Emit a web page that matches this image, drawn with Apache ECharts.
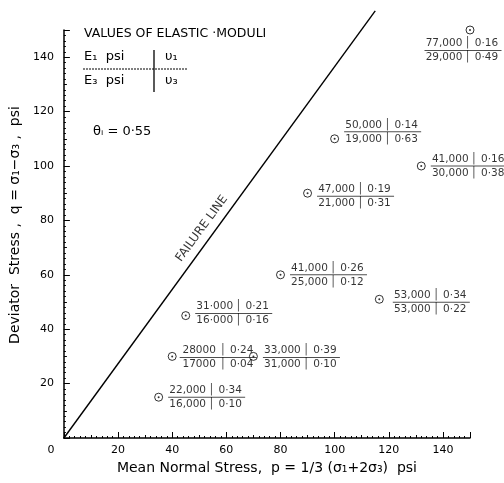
<!DOCTYPE html>
<html>
<head>
<meta charset="utf-8">
<script src="https://cdn.jsdelivr.net/npm/echarts@6/dist/echarts.min.js"></script>
<style>html,body{margin:0;padding:0;background:#fff}#c{width:504px;height:483px}</style>
</head>
<body>
<div id="c"></div>
<script>
// ---- data ----
const meanStress     = [150, 100, 132, 90, 80, 116.5, 70, 45, 40, 35];   // p, psi
const deviatorStress = [150, 110, 100, 90, 60, 51, 30, 45, 30, 15];      // q, psi
const e1  = ['77,000','50,000','41,000','47,000','41,000','53,000','33,000','31·000','28000','22,000'];
const nu1 = ['0·16','0·14','0·16','0·19','0·26','0·34','0·39','0·21','0·24','0·34'];
const e3  = ['29,000','19,000','30,000','21,000','25,000','53,000','31,000','16·000','17000','16,000'];
const nu3 = ['0·49','0·63','0·38','0·31','0·12','0·22','0·10','0·16','0·04','0·10'];
const failureLine = [[0, 0], [115, 157]];
const failureLabelAt = [51, 77];
const xTicks = [0, 20, 40, 60, 80, 100, 120, 140];
const yTicks = [20, 40, 60, 80, 100, 120, 140];

// label placement (style only)
const labelPlace = [
  {position:'bottom', offset:[-7,0], distance:3},
  {position:'right', offset:[0,-7]},
  {position:'right', offset:[0,0]},
  {position:'right', offset:[0,3]},
  {position:'right', offset:[0,0]},
  {position:'right', offset:[4,3]},
  {position:'right', offset:[0,1]},
  {position:'right', offset:[0,-2]},
  {position:'right', offset:[-2,1]},
  {position:'right', offset:[0,0]}
];

const FONT = 'DejaVu Sans';
const INK = '#000';

const points = meanStress.map((x, i) => ({
  value: [x, deviatorStress[i]],
  label: Object.assign({show:true}, labelPlace[i])
}));

const rich = {
  l: {width: 38, align: 'right', fontSize: 10.5, lineHeight: 12, color: INK, fontFamily: FONT},
  b: {width: 9, align: 'center', fontSize: 10.5, lineHeight: 12, color: INK, fontFamily: FONT},
  r: {width: 29, align: 'left', fontSize: 10.5, lineHeight: 12, color: INK, fontFamily: FONT},
  hr: {width: 77, height: 1, lineHeight: 2, backgroundColor: '#222'}
};

const chart = echarts.init(document.getElementById('c'), null, {renderer: 'canvas'});

const axisCommon = {
  type: 'value', min: 0, max: 150,
  splitLine: {show: false},
  axisLine: {show: true, lineStyle: {color: INK, width: 1.5}},
};

chart.setOption({
  backgroundColor: '#fff',
  animation: false,
  grid: {left: 63, right: 34, top: 30, bottom: 45, containLabel: false},
  xAxis: [
    Object.assign({}, axisCommon, {
      position: 'bottom', interval: 20,
      axisTick: {show: true, inside: true, length: 6, lineStyle: {color: INK, width: 1}},
      axisLabel: {
        margin: 7, fontSize: 11, color: INK, fontFamily: FONT,
        formatter: v => v === 0 ? '{z|' + xTicks[0] + '}' : (xTicks.indexOf(v) >= 0 ? String(v) : ''),
        rich: {z: {fontSize: 11, color: INK, fontFamily: FONT, padding: [0, 26, 0, 0]}}
      },
      name: 'Mean Normal Stress,  p = 1/3 (σ₁+2σ₃)  psi',
      nameLocation: 'middle', nameGap: 23,
      nameTextStyle: {fontSize: 14, color: INK, fontFamily: FONT}
    }),
    Object.assign({}, axisCommon, {
      position: 'bottom', interval: 10,
      axisLine: {show: false},
      axisTick: {show: true, inside: true, length: 3, lineStyle: {color: INK, width: 1}},
      minorTick: {show: true, splitNumber: 5, length: 2, lineStyle: {color: INK, width: 1}},
      axisLabel: {show: false}
    })
  ],
  yAxis: [
    Object.assign({}, axisCommon, {
      position: 'left', interval: 20,
      axisTick: {show: true, inside: true, length: 6, lineStyle: {color: INK, width: 1}},
      axisLabel: {
        margin: 10, fontSize: 11, color: INK, fontFamily: FONT,
        formatter: v => (yTicks.indexOf(v) >= 0 ? String(v) : '')
      },
      name: 'Deviator  Stress ,  q = σ₁−σ₃ ,  psi',
      nameLocation: 'middle', nameGap: 28, nameRotate: 90,
      nameTextStyle: {fontSize: 14, color: INK, fontFamily: FONT, padding: [0, 0, 0, 18]}
    }),
    Object.assign({}, axisCommon, {
      position: 'left', interval: 10,
      axisLine: {show: false},
      axisTick: {show: true, inside: true, length: 3, lineStyle: {color: INK, width: 1}},
      minorTick: {show: true, splitNumber: 5, length: 2, lineStyle: {color: INK, width: 1}},
      axisLabel: {show: false}
    })
  ],
  series: [
    {
      type: 'line', data: failureLine, clip: false, symbol: 'none',
      lineStyle: {color: INK, width: 1.4}, silent: true
    },
    {
      type: 'scatter', data: [failureLabelAt], symbolSize: 0, silent: true,
      label: {show: true, position: 'inside', formatter: 'FAILURE LINE', rotate: 53.7,
        fontSize: 12, color: INK, fontFamily: FONT}
    },
    {
      type: 'scatter', data: points, symbol: 'circle', symbolSize: 8,
      itemStyle: {color: '#fff', borderColor: INK, borderWidth: 1},
      label: {
        color: INK, fontFamily: FONT,
        formatter: p => `{l|${e1[p.dataIndex]}}{b|│}{r|${nu1[p.dataIndex]}}\n{hr|}\n{l|${e3[p.dataIndex]}}{b|│}{r|${nu3[p.dataIndex]}}`,
        rich: rich
      },
      z: 3
    },
    {
      type: 'scatter', data: meanStress.map((x, i) => [x, deviatorStress[i]]),
      symbol: 'circle', symbolSize: 2, itemStyle: {color: INK}, z: 4, silent: true
    }
  ],
  graphic: [
    {type: 'text', left: 84, top: 27, style: {text: 'VALUES OF ELASTIC ·MODULI', font: '12.5px "DejaVu Sans"', fill: INK}},
    {type: 'text', left: 84, top: 50, style: {text: 'E₁  psi', font: '13px "DejaVu Sans"', fill: INK}},
    {type: 'text', left: 165, top: 50, style: {text: 'υ₁', font: '13px "DejaVu Sans"', fill: INK}},
    {type: 'line', shape: {x1: 83, y1: 69, x2: 188, y2: 69}, style: {stroke: INK, lineWidth: 1, lineDash: [2, 1]}},
    {type: 'line', shape: {x1: 154, y1: 50, x2: 154, y2: 92}, style: {stroke: INK, lineWidth: 1.3}},
    {type: 'text', left: 84, top: 74, style: {text: 'E₃  psi', font: '13px "DejaVu Sans"', fill: INK}},
    {type: 'text', left: 165, top: 74, style: {text: 'υ₃', font: '13px "DejaVu Sans"', fill: INK}},
    {type: 'text', left: 93, top: 125, style: {text: 'θᵢ = 0·55', font: '13px "DejaVu Sans"', fill: INK}}
  ]
});
</script>
</body>
</html>
